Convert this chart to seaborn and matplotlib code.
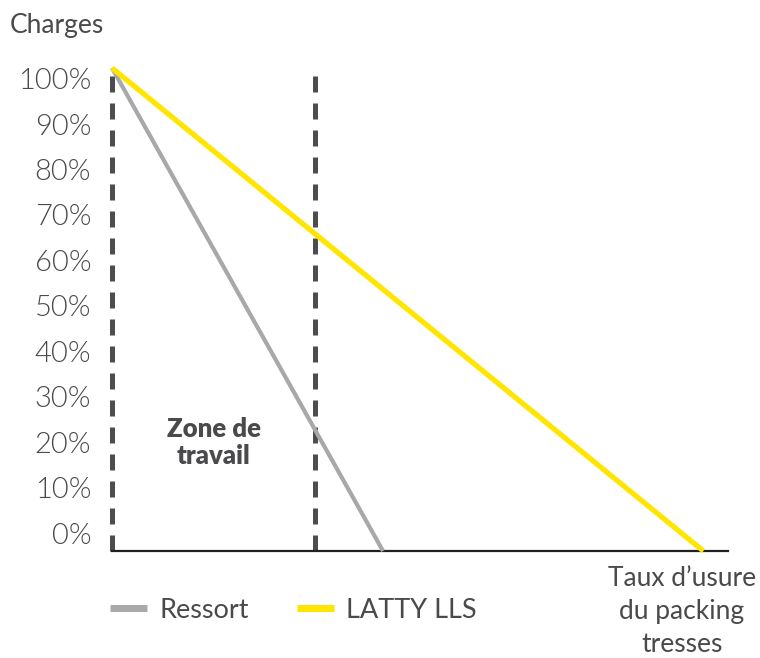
import numpy as np
import pandas as pd
import matplotlib.pyplot as plt
import seaborn as sns

# data
series = ["Ressort", "LATTY LLS"]
usure_ressort = [0, 44]
charge_ressort = [100, 0]
usure_latty = [0, 96]
charge_latty = [100, 0]
zone_travail = [0, 33]
tick_labels = ["0%", "10%", "20%", "30%", "40%", "50%", "60%", "70%", "80%", "90%", "100%"]

df = pd.concat([
    pd.DataFrame({"usure": usure_ressort, "charge": charge_ressort, "serie": series[0]}),
    pd.DataFrame({"usure": usure_latty, "charge": charge_latty, "serie": series[1]}),
], ignore_index=True)

sns.set_style("white")
plt.rcParams["font.family"] = ["Lato", "DejaVu Sans"]

grey = "#a7a8aa"
yellow = "#ffe500"
dark = "#4d4d4f"
txt = "#4a4a4c"

fig = plt.figure(figsize=(7.6, 6.58), dpi=100)
ax = fig.add_axes([112 / 760, 107 / 658, 616 / 760, 483 / 658])

for x in zone_travail:
    ax.axvline(x, color=dark, lw=3.6, linestyle=(0, (3.2, 2.2)),
               solid_capstyle="butt", dash_capstyle="butt", zorder=1, clip_on=False)

sns.lineplot(data=df, x="usure", y="charge", hue="serie",
             palette={"Ressort": grey, "LATTY LLS": yellow},
             ax=ax, legend=False, zorder=3)
ax.lines[-2].set_linewidth(3.0)
ax.lines[-1].set_linewidth(3.8)
for ln in ax.lines[-2:]:
    ln.set_clip_on(False)
    ln.set_solid_capstyle("butt")

ax.set_xlim(0, 100)
ax.set_ylim(0, 100)
ax.set_xticks([])
ax.set_yticks(np.linspace(3.7, 97.8, 11), tick_labels)
ax.tick_params(axis="y", length=0, pad=15, labelsize=21, labelcolor=txt)
for lab in ax.get_yticklabels():
    lab.set_fontweight(300)
ax.set_xlabel("")
ax.set_ylabel("")
for s in ["top", "right", "left"]:
    ax.spines[s].set_visible(False)
ax.spines["bottom"].set_color("#231f20")
ax.spines["bottom"].set_linewidth(1.6)

ax.text(np.mean(zone_travail), 22.4, "Zone de\ntravail", ha="center", va="center",
        fontsize=18.5, fontweight="heavy", color=txt, linespacing=1.15)

fig.text(10 / 760, 1 - 25 / 658, "Charges", fontsize=19, color=txt, va="center", ha="left")
fig.text(682 / 760, 1 - 612 / 658, "Taux d\u2019usure\ndu packing\ntresses", fontsize=19,
         color=txt, ha="center", va="center", linespacing=1.4)

handles = [plt.Line2D([], [], color=grey, lw=5, solid_capstyle="butt"),
           plt.Line2D([], [], color=yellow, lw=5, solid_capstyle="butt")]
fig.legend(handles, series, loc="center left", bbox_to_anchor=(86 / 760, 1 - 610 / 658),
           ncol=2, frameon=False, fontsize=19.5, handlelength=1.35, handletextpad=0.45,
           columnspacing=1.8, labelcolor=txt)

fig.savefig("out.png", dpi=100)
